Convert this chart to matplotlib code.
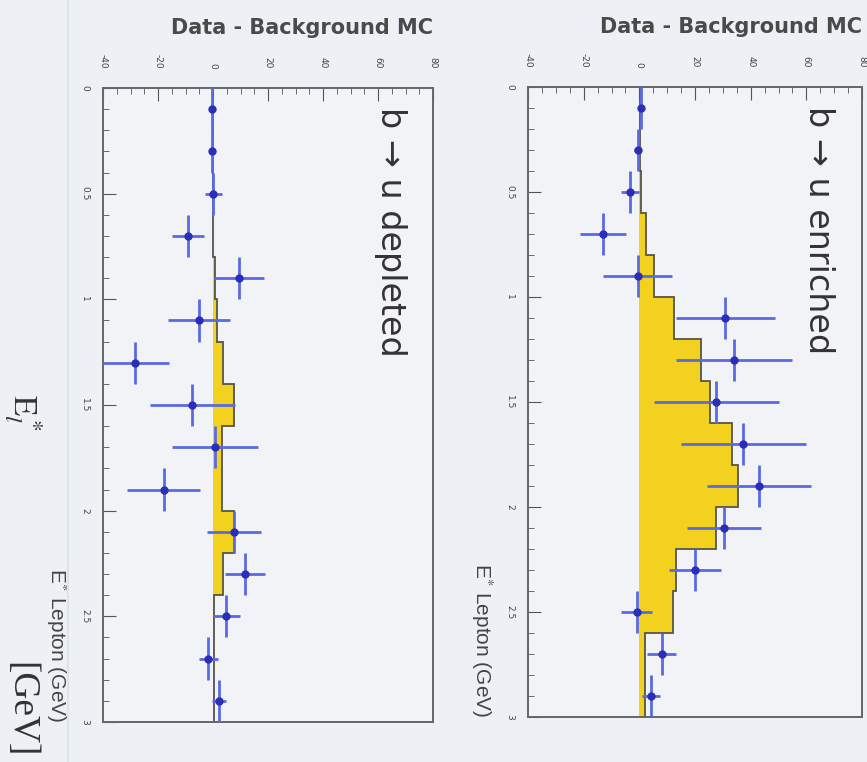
import matplotlib
matplotlib.use("Agg")
import matplotlib.pyplot as plt
from matplotlib.lines import Line2D
from matplotlib.ticker import MultipleLocator

plt.rcParams["mathtext.fontset"] = "stix"

# bin centres / edges of E* lepton (GeV)
centers = [0.1, 0.3, 0.5, 0.7, 0.9, 1.1, 1.3, 1.5, 1.7, 1.9, 2.1, 2.3, 2.5, 2.7, 2.9]
edges = [0.0, 0.2, 0.4, 0.6, 0.8, 1.0, 1.2, 1.4, 1.6, 1.8, 2.0, 2.2, 2.4, 2.6, 2.8, 3.0]

# b -> u depleted
dep_vals = [-0.3, -0.3, 0.1, -9.1, 9.3, -5.1, -28.4, -7.5, 0.7, -18.0, 7.5, 11.6, 4.9, -1.7, 2.2]
dep_errs = [0.8, 1.0, 3.0, 5.8, 9.1, 11.3, 12.5, 15.5, 15.5, 13.4, 9.8, 7.3, 4.9, 3.5, 2.5]
dep_mc = [0.0, 0.0, 0.0, 0.0, 0.8, 1.6, 3.6, 7.5, 3.1, 3.3, 7.5, 3.7, 0.5, 0.2, 0.2]

# b -> u enriched
enr_vals = [0.6, -0.6, -3.4, -13.0, -0.5, 30.9, 34.1, 27.6, 37.4, 43.0, 30.4, 20.0, -1.0, 8.1, 4.1]
enr_errs = [0.8, 1.2, 3.3, 8.2, 12.4, 17.9, 20.9, 22.4, 22.4, 18.8, 13.3, 9.4, 5.5, 5.2, 3.3]
enr_mc = [0.2, 0.3, 0.5, 2.5, 5.3, 12.5, 22.0, 25.5, 33.2, 35.4, 27.4, 13.3, 12.0, 2.0, 2.0]

val_ticks = [-40, -20, 0, 20, 40, 60, 80]
val_labels = ["-40", "-20", "0", "20", "40", "60", "80"]
e_ticks = [0, 0.5, 1, 1.5, 2, 2.5, 3]
e_labels = ["0", "0.5", "1", "1.5", "2", "2.5", "3"]

bg = "#edf0f5"
W, H = 867, 762

fig = plt.figure(figsize=(W / 100, H / 100), dpi=100, facecolor=bg)


def frac(x0, y0, x1, y1):
    # pixel box -> figure fraction
    return [x0 / W, 1 - y1 / H, (x1 - x0) / W, (y1 - y0) / H]


def panel(box, vals, errs, mc, label):
    ax = fig.add_axes(frac(*box))
    ax.set_facecolor("#f1f3f7")
    ax.stairs(mc, edges, orientation="horizontal", baseline=0, fill=True,
              color="#f2d21e", zorder=1)
    ax.stairs(mc, edges, orientation="horizontal", baseline=0,
              color="#55554a", lw=1.3, zorder=2)
    ax.errorbar(vals, centers, xerr=errs, yerr=0.1, fmt="o", ms=5,
                color="#2a2fb5", ecolor="#5a6ae2", elinewidth=2, capsize=0,
                zorder=3)
    ax.set_xlim(-40, 80)
    ax.set_ylim(3, 0)
    ax.set_xticks(val_ticks)
    ax.set_xticklabels(val_labels, rotation=-90, fontsize=6.5, color="#444")
    ax.set_yticks(e_ticks)
    ax.set_yticklabels(e_labels, rotation=-90, fontsize=6.5, color="#444",
                       va="center")
    ax.xaxis.set_minor_locator(MultipleLocator(5))
    ax.yaxis.set_minor_locator(MultipleLocator(0.1))
    ax.tick_params(which="both", direction="in", top=True, bottom=False,
                   labeltop=True, labelbottom=False, left=True, right=False,
                   color="#555")
    ax.tick_params(axis="x", which="major", length=9, pad=14)
    ax.tick_params(axis="x", which="minor", length=4.5)
    ax.tick_params(axis="y", which="major", length=9, pad=10)
    ax.tick_params(axis="y", which="minor", length=4.5)
    for s in ax.spines.values():
        s.set_color("#666")
        s.set_linewidth(1.4)
    ax.text(1.0, 1.095, "Data - Background MC", transform=ax.transAxes,
            ha="right", va="center", fontsize=15, fontweight="bold",
            color="#4a4a4a", family="DejaVu Sans")
    ax.text(-0.14, 0.0, r"E$^{*}$ Lepton (GeV)", transform=ax.transAxes,
            rotation=-90, ha="center", va="bottom", fontsize=15, color="#444",
            family="Liberation Sans")
    ax.text(0.87, 0.97, label, transform=ax.transAxes, rotation=-90,
            ha="center", va="top", fontsize=24, color="#333",
            family="DejaVu Sans")
    return ax


panel((103, 88, 433, 722), dep_vals, dep_errs, dep_mc, "b \u2192 u depleted")
panel((528, 87, 862, 717), enr_vals, enr_errs, enr_mc, "b \u2192 u enriched")

# slide labels on the far left
fig.text(23 / W, 1 - 412 / H, r"$\mathrm{E}_l^*$", rotation=-90, ha="center",
         va="center", fontsize=24, color="#333")
fig.text(20 / W, 1 - 710 / H, "[GeV]", rotation=-90, ha="center",
         va="center", fontsize=27, color="#333", family="Liberation Serif")
fig.add_artist(Line2D([68 / W, 68 / W], [0, 1], color="#dde2f0", lw=1.5))

fig.savefig("out.png", dpi=100, facecolor=bg)
